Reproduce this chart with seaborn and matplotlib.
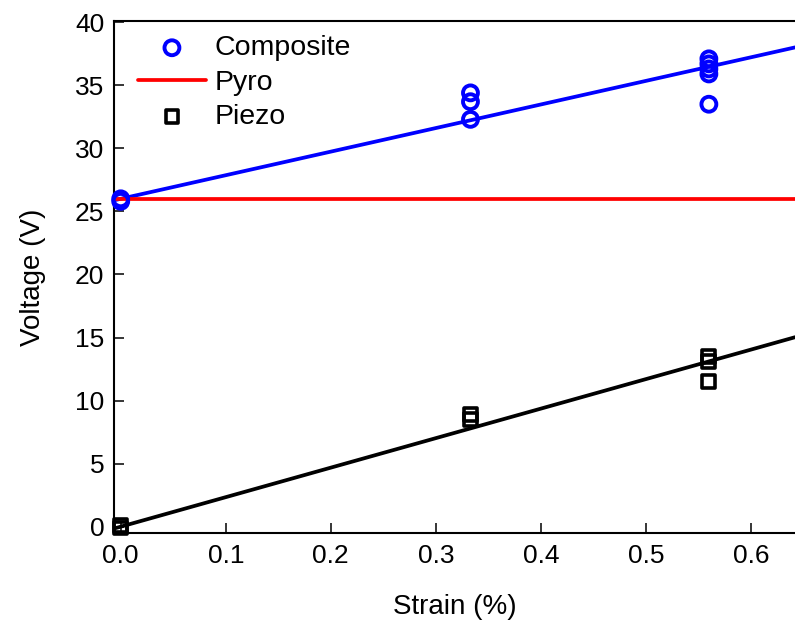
import numpy as np
import pandas as pd
import matplotlib
matplotlib.use("Agg")
import matplotlib.pyplot as plt
import seaborn as sns

# === DATA ===
composite_strain = [0.0, 0.0, 0.333, 0.333, 0.333, 0.56, 0.56, 0.56, 0.56, 0.56]
composite_voltage = [26.0, 25.8, 34.4, 33.7, 32.3, 37.1, 36.7, 36.3, 35.9, 33.5]

piezo_strain = [0.0, 0.0, 0.333, 0.333, 0.56, 0.56, 0.56]
piezo_voltage = [0.1, -0.1, 8.9, 8.5, 13.5, 13.1, 11.5]

pyro_voltage = 26.0

# linear fits as drawn in the figure (intercept, slope)
composite_fit = [26.0, 18.7]
piezo_fit = [0.0, 23.4]

XLIM = (-0.0064, 0.642)
YLIM = (-0.5, 40.1)

sns.set_style("ticks")
plt.rcParams["font.family"] = ["Liberation Sans", "DejaVu Sans"]
plt.rcParams["text.color"] = "black"
plt.rcParams["axes.labelcolor"] = "black"
plt.rcParams["xtick.color"] = "black"
plt.rcParams["ytick.color"] = "black"
plt.rcParams["axes.edgecolor"] = "black"

fig = plt.figure(figsize=(7.95, 6.23), dpi=100)
ax = fig.add_axes([0.1434, 0.1445, 1 - 0.1434, 0.8218])

comp_df = pd.DataFrame({"Strain": composite_strain, "Voltage": composite_voltage})
piezo_df = pd.DataFrame({"Strain": piezo_strain, "Voltage": piezo_voltage})

xs = np.array(XLIM)
fit_df = pd.DataFrame({
    "Strain": np.concatenate([xs, xs]),
    "Voltage": np.concatenate([composite_fit[0] + composite_fit[1] * xs,
                               piezo_fit[0] + piezo_fit[1] * xs]),
    "Series": ["Composite"] * 2 + ["Piezo"] * 2,
})
pyro_df = pd.DataFrame({"Strain": xs, "Voltage": [pyro_voltage] * 2})

# fit lines
sns.lineplot(data=fit_df, x="Strain", y="Voltage", hue="Series",
             palette={"Composite": "#0000FF", "Piezo": "black"},
             linewidth=2.7, legend=False, ax=ax, zorder=2)
# pyro level
sns.lineplot(data=pyro_df, x="Strain", y="Voltage", color="#FF0000",
             linewidth=2.7, label="Pyro", ax=ax, zorder=2)

# points
sns.scatterplot(data=comp_df, x="Strain", y="Voltage", marker="o", s=115,
                facecolor="none", edgecolor="#0000FF", linewidth=2.8,
                label="Composite", ax=ax, zorder=3, clip_on=False)
sns.scatterplot(data=piezo_df, x="Strain", y="Voltage", marker="s", s=85,
                facecolor="none", edgecolor="black", linewidth=2.6,
                label="Piezo", ax=ax, zorder=3, clip_on=False)

ax.set_xlim(*XLIM)
ax.set_ylim(*YLIM)
ax.set_xticks([0.0, 0.1, 0.2, 0.3, 0.4, 0.5, 0.6])
ax.set_yticks(range(0, 41, 5))
ax.xaxis.set_major_formatter(matplotlib.ticker.FormatStrFormatter("%.1f"))

ax.tick_params(direction="in", length=7, width=1.1, labelsize=19, pad=8)
ax.tick_params(axis="y", pad=7)
ax.spines["right"].set_visible(False)
for s in ["left", "bottom", "top"]:
    ax.spines[s].set_linewidth(1.5)

ax.set_xlabel("Strain (%)", fontsize=20, labelpad=19)
ax.set_ylabel("Voltage (V)", fontsize=20, labelpad=21)

handles, labels = ax.get_legend_handles_labels()
order = [labels.index(l) for l in ["Composite", "Pyro", "Piezo"]]
ax.legend([handles[i] for i in order], [labels[i] for i in order],
          loc="upper left", bbox_to_anchor=(0.014, 1.0), frameon=False,
          fontsize=20.5, handlelength=2.4, handletextpad=0.3,
          labelspacing=0.3, borderaxespad=0.1)

fig.savefig("out.png", dpi=100)
